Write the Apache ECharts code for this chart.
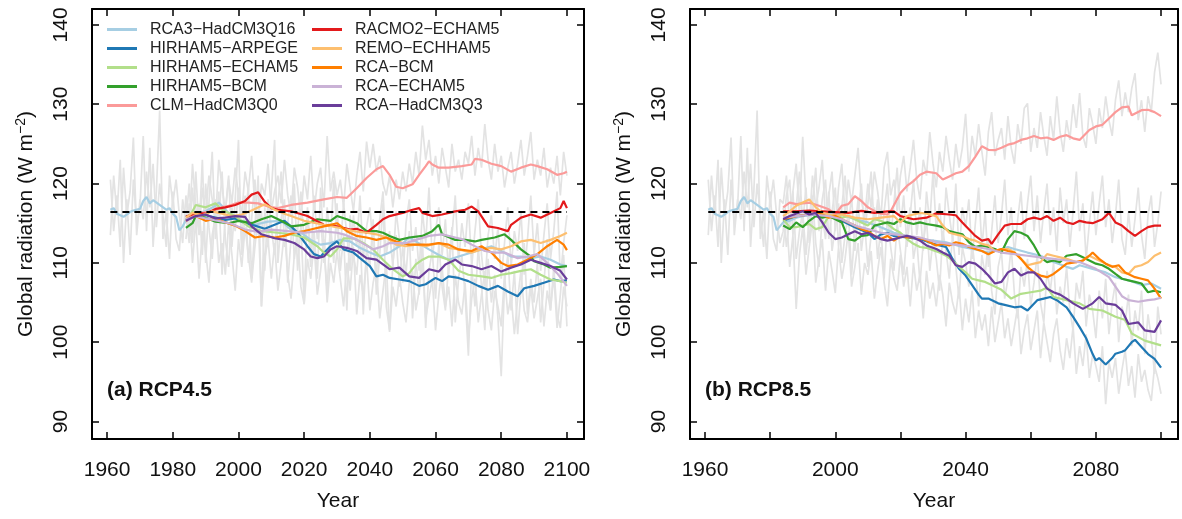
<!DOCTYPE html>
<html><head><meta charset="utf-8">
<script src="https://cdn.jsdelivr.net/npm/echarts@6/dist/echarts.min.js"></script>
<style>html,body{margin:0;padding:0;background:#fff}#c{width:1182px;height:519px}</style>
</head><body><div id="c"></div>
<script>
const FONT = '"Liberation Sans", Arial, Helvetica, sans-serif';

const modelNames = ['RCA3−HadCM3Q16','HIRHAM5−ARPEGE','HIRHAM5−ECHAM5','HIRHAM5−BCM','CLM−HadCM3Q0','RACMO2−ECHAM5','REMO−ECHHAM5','RCA−BCM','RCA−ECHAM5','RCA−HadCM3Q3'];
const modelColors = ['#A6CEE3','#1F78B4','#B2DF8A','#33A02C','#FB9A99','#E31A1C','#FDBF6F','#FF7F00','#CAB2D6','#6A3D9A'];
const xTicks = [1960,1980,2000,2020,2040,2060,2080,2100];
const xLabelsA = [1960,1980,2000,2020,2040,2060,2080,2100];
const xLabelsB = [1960,2000,2040,2080];
const yTicks = [90,100,110,120,130,140];
const refStart = 1961, refEnd = 2100, refLevel = 116.4;
const panelTitles = ['(a) RCP4.5','(b) RCP8.5'];

// shared historical part of the RCA3-HadCM3Q16 running mean
const rca3Hist = [[1961,116.7],[1962,116.9],[1963,116.2],[1965,115.8],[1967,116.4],[1968,116.6],[1970,116.8],[1971,117.8],[1972,118.3],[1973,117.5],[1974,117.9],[1976,117.3],[1978,116.7],[1979,116.9],[1980,116.2],[1981,115.8],[1982,114.1],[1983,114.6]];

// ---- RCP4.5 running means ----
const rca3_45 = [[1984,115.4],[1985,115.9],[1987,116.2],[1990,116.5],[1993,117.2],[1994,117.6],[1997,116.3],[2001,115.3],[2005,114.8],[2009,115.2],[2013,115.3],[2016,114.2],[2019,113.8],[2022,112.9],[2025,112.3],[2028,112.5],[2031,112.9],[2034,112.7],[2037,111.9],[2040,111.3],[2043,110.8],[2046,111.3],[2049,112.1],[2052,113.2],[2054,112.7],[2058,111.7],[2061,111.0],[2064,110.4],[2067,110.8],[2071,111.3],[2074,111.7],[2077,112.1],[2080,111.5],[2083,110.8],[2086,110.8],[2089,110.6],[2092,110.8],[2095,110.4],[2098,109.8],[2100,109.6]];
const arpege45 = [[1984,115.8],[1987,116.1],[1990,116.0],[1993,115.7],[1996,115.4],[1999,115.6],[2002,115.0],[2005,114.7],[2008,114.3],[2011,114.8],[2014,115.3],[2016,114.6],[2018,113.8],[2021,112.1],[2023,111.1],[2025,110.8],[2028,112.1],[2030,112.7],[2032,111.7],[2035,111.3],[2037,110.6],[2040,109.6],[2042,108.3],[2044,108.5],[2046,108.1],[2049,107.9],[2052,107.7],[2055,107.1],[2057,107.3],[2060,108.1],[2062,107.7],[2064,108.3],[2067,108.1],[2070,107.7],[2073,107.1],[2076,106.6],[2079,107.1],[2082,106.4],[2085,105.8],[2087,106.8],[2090,107.1],[2093,107.5],[2096,107.9],[2098,107.7],[2100,107.8]];
const echam45 = [[1984,115.3],[1986,116.5],[1987,117.3],[1990,117.0],[1993,117.5],[1995,116.7],[1999,115.9],[2003,114.6],[2007,114.0],[2012,113.8],[2016,113.6],[2020,113.2],[2024,112.1],[2026,111.3],[2028,110.8],[2030,111.7],[2032,113.1],[2035,113.1],[2038,112.5],[2041,111.7],[2044,110.4],[2047,109.2],[2050,108.3],[2052,108.7],[2054,109.8],[2056,110.4],[2058,110.8],[2061,110.8],[2064,110.4],[2067,109.0],[2070,108.5],[2074,108.3],[2077,108.1],[2080,108.5],[2083,108.7],[2086,109.0],[2089,109.2],[2092,108.5],[2095,107.9],[2098,107.7],[2100,107.5]];
const bcm45 = [[1984,114.4],[1986,115.0],[1987,115.9],[1990,115.7],[1993,115.2],[1997,115.0],[2000,115.3],[2004,115.0],[2007,115.5],[2010,115.9],[2013,115.3],[2016,114.6],[2020,114.8],[2024,115.5],[2028,115.3],[2030,115.9],[2033,115.5],[2036,115.0],[2039,114.0],[2042,114.0],[2044,113.8],[2046,113.4],[2049,112.9],[2052,113.2],[2056,113.4],[2059,114.0],[2061,114.8],[2062,113.6],[2066,112.9],[2069,112.9],[2072,112.7],[2074,112.9],[2078,113.2],[2081,113.6],[2083,112.9],[2086,111.7],[2089,110.8],[2090,110.2],[2093,109.8],[2095,109.4],[2098,109.5],[2100,109.6]];
const clm45 = [[1984,115.2],[1986,116.0],[1989,116.3],[1992,116.5],[1995,117.0],[1997,117.2],[2000,117.6],[2003,117.6],[2006,117.5],[2009,117.1],[2012,116.9],[2016,117.3],[2021,117.6],[2026,118.0],[2030,118.3],[2033,118.2],[2036,119.4],[2039,120.7],[2042,121.8],[2044,122.2],[2046,121.1],[2048,119.6],[2050,119.4],[2053,119.9],[2055,121.1],[2057,122.2],[2058,122.8],[2059,122.4],[2061,122.0],[2064,122.0],[2068,122.2],[2071,122.4],[2072,123.1],[2074,123.0],[2077,122.5],[2080,122.2],[2083,121.5],[2086,122.0],[2089,122.4],[2091,122.2],[2094,121.8],[2097,121.1],[2099,121.3],[2100,121.5]];
const racmo45 = [[1984,115.8],[1987,116.3],[1990,116.2],[1993,116.8],[1996,117.0],[1999,117.3],[2002,117.8],[2004,118.6],[2006,118.9],[2008,117.7],[2010,116.9],[2012,116.7],[2016,116.5],[2021,115.9],[2026,114.8],[2030,114.6],[2034,114.2],[2036,114.3],[2039,113.8],[2042,114.8],[2044,115.5],[2046,115.9],[2050,116.3],[2053,116.7],[2055,116.9],[2056,116.3],[2059,115.9],[2062,116.1],[2066,116.5],[2069,116.7],[2071,117.1],[2073,116.5],[2076,114.6],[2079,114.4],[2082,114.0],[2083,114.8],[2086,115.7],[2089,116.1],[2092,115.7],[2095,116.3],[2098,116.9],[2099,117.8],[2100,116.9]];
const remo45 = [[1984,115.7],[1986,116.3],[1989,116.0],[1992,116.5],[1995,116.2],[1998,115.9],[2001,116.1],[2004,116.6],[2008,117.4],[2011,116.7],[2014,116.2],[2016,115.9],[2020,115.3],[2026,114.8],[2031,114.4],[2035,114.0],[2039,113.8],[2042,113.6],[2045,113.2],[2048,112.3],[2051,112.1],[2054,112.3],[2057,112.1],[2061,112.5],[2064,111.9],[2067,111.7],[2071,111.3],[2074,111.7],[2077,111.9],[2080,111.7],[2083,112.1],[2086,112.7],[2089,112.9],[2092,112.5],[2095,112.9],[2098,113.4],[2100,113.8]];
const rcabcm45 = [[1984,115.5],[1987,115.9],[1990,115.3],[1993,115.6],[1996,115.1],[1999,114.7],[2002,114.0],[2005,113.2],[2008,113.4],[2011,113.2],[2014,113.4],[2017,113.8],[2020,114.0],[2022,114.2],[2026,114.6],[2030,115.0],[2033,114.0],[2036,113.4],[2039,113.2],[2042,112.9],[2045,113.2],[2048,112.7],[2052,112.3],[2055,112.3],[2058,112.3],[2061,112.5],[2064,112.3],[2067,111.7],[2071,111.5],[2074,112.1],[2077,111.3],[2080,110.0],[2082,109.6],[2085,109.8],[2088,110.4],[2091,111.1],[2094,112.1],[2097,112.9],[2099,112.3],[2100,111.6]];
const rcaecham45 = [[1984,115.5],[1987,115.9],[1990,115.6],[1994,115.3],[1998,114.9],[2002,114.2],[2006,113.9],[2010,114.2],[2015,114.0],[2020,113.8],[2025,114.0],[2030,113.8],[2032,113.6],[2036,112.9],[2041,111.7],[2044,112.1],[2046,112.5],[2051,112.5],[2054,112.9],[2058,113.4],[2062,113.6],[2066,113.2],[2068,113.0],[2071,112.3],[2075,111.5],[2078,111.3],[2081,111.3],[2085,110.6],[2088,110.8],[2091,111.1],[2094,110.0],[2097,108.7],[2100,107.1]];
const hadq3_45 = [[1984,115.3],[1987,115.9],[1990,116.1],[1993,115.6],[1996,115.7],[1999,115.9],[2002,115.8],[2004,114.6],[2007,113.6],[2011,113.1],[2014,112.9],[2017,112.5],[2020,111.7],[2022,110.8],[2024,110.6],[2026,110.8],[2028,111.7],[2030,112.1],[2033,111.9],[2036,111.5],[2039,110.6],[2042,110.4],[2044,109.8],[2046,109.2],[2049,109.4],[2052,108.3],[2055,108.1],[2058,109.2],[2061,108.9],[2063,109.8],[2066,110.4],[2068,109.8],[2071,109.6],[2074,109.2],[2077,109.6],[2080,108.9],[2083,109.4],[2086,109.8],[2089,110.4],[2092,110.0],[2095,109.6],[2098,109.0],[2100,107.9]];

// ---- RCP8.5 running means ----
const rca3_85 = [[1984,115.1],[1986,115.3],[1988,115.7],[1990,115.9],[1994,116.1],[1998,116.3],[2002,116.1],[2006,115.5],[2010,115.1],[2014,114.5],[2018,113.8],[2022,113.4],[2026,113.0],[2030,112.8],[2034,112.6],[2039,112.0],[2043,111.7],[2047,111.3],[2051,111.7],[2053,112.0],[2055,111.75],[2059,111.3],[2063,110.9],[2067,110.1],[2071,109.5],[2073,109.25],[2075,109.7],[2079,109.25],[2083,108.8],[2086,108.2],[2090,107.8],[2094,107.2],[2097,107.4],[2100,106.75]];
const arpege85 = [[1984,115.3],[1988,115.9],[1992,116.1],[1996,116.0],[1998,115.9],[2002,115.3],[2006,114.5],[2010,113.8],[2012,113.0],[2014,113.6],[2016,113.8],[2018,113.4],[2022,113.2],[2026,113.0],[2030,112.4],[2034,112.0],[2036,110.5],[2038,109.25],[2040,108.4],[2042,107.2],[2044,106.0],[2045,105.5],[2047,105.5],[2050,104.9],[2052,104.7],[2055,104.4],[2057,104.5],[2059,104.0],[2062,105.3],[2064,105.5],[2066,105.7],[2068,105.3],[2071,104.4],[2073,103.2],[2075,101.9],[2077,100.5],[2079,98.5],[2080,97.7],[2081,98.0],[2083,97.2],[2085,98.0],[2086,98.55],[2088,98.8],[2089,99.0],[2091,100.0],[2092,100.3],[2094,99.4],[2096,98.5],[2098,97.9],[2100,96.8]];
const echam85 = [[1984,115.5],[1986,114.5],[1988,114.5],[1990,114.7],[1992,114.9],[1994,114.25],[1996,114.5],[1998,115.9],[2000,116.1],[2002,115.7],[2004,115.9],[2006,115.5],[2008,115.1],[2010,114.7],[2012,115.5],[2014,115.3],[2016,114.9],[2018,114.25],[2020,113.8],[2022,113.0],[2024,112.4],[2026,112.0],[2028,111.9],[2030,111.6],[2032,111.3],[2034,110.9],[2036,110.3],[2038,109.5],[2040,108.8],[2042,108.0],[2044,107.8],[2046,107.6],[2048,107.2],[2051,106.6],[2054,105.5],[2057,106.1],[2060,106.3],[2063,106.5],[2065,106.9],[2067,105.7],[2071,105.3],[2075,104.9],[2078,104.2],[2082,104.0],[2086,103.2],[2089,102.8],[2091,101.1],[2095,100.2],[2100,99.6]];
const bcm85 = [[1984,114.7],[1986,114.25],[1988,115.1],[1990,114.5],[1992,115.3],[1994,115.9],[1996,115.7],[1998,115.9],[2000,115.5],[2002,115.1],[2004,113.0],[2006,112.8],[2008,113.4],[2010,113.5],[2012,114.7],[2014,114.9],[2016,115.1],[2018,114.9],[2020,115.5],[2022,115.1],[2024,114.9],[2026,115.1],[2028,114.9],[2031,114.7],[2033,114.5],[2035,114.0],[2037,113.8],[2039,113.6],[2041,112.6],[2043,112.0],[2045,112.2],[2047,112.0],[2049,111.75],[2051,111.3],[2053,113.0],[2055,114.0],[2057,113.8],[2059,113.4],[2061,112.2],[2063,110.7],[2065,110.1],[2067,110.3],[2069,110.1],[2071,110.9],[2074,111.1],[2076,110.7],[2078,110.3],[2080,109.9],[2082,109.7],[2084,109.25],[2086,108.6],[2088,108.0],[2090,107.8],[2092,107.6],[2094,107.4],[2096,106.3],[2098,106.5],[2100,106.3]];
const clm85 = [[1984,117.0],[1986,117.6],[1988,117.4],[1992,117.6],[1995,117.2],[1998,116.75],[2000,116.1],[2002,117.2],[2004,117.4],[2006,118.4],[2008,117.8],[2010,117.0],[2012,116.55],[2014,116.2],[2016,116.1],[2017,116.5],[2020,118.8],[2022,119.7],[2024,120.3],[2026,121.1],[2028,121.5],[2031,121.3],[2033,120.5],[2035,120.9],[2037,121.3],[2039,121.5],[2041,122.2],[2043,123.4],[2045,124.7],[2047,124.25],[2049,124.2],[2051,124.5],[2053,124.9],[2055,125.1],[2057,125.5],[2059,125.7],[2061,126.0],[2063,125.7],[2065,125.8],[2067,125.5],[2069,125.9],[2071,126.1],[2073,125.7],[2075,125.5],[2078,126.75],[2080,127.2],[2082,127.4],[2084,128.2],[2086,129.0],[2088,129.6],[2090,129.7],[2091,128.6],[2094,129.25],[2096,129.3],[2098,129.0],[2100,128.5]];
const racmo85 = [[1984,116.5],[1988,116.5],[1992,116.6],[1996,116.5],[2000,116.4],[2004,116.3],[2008,116.55],[2012,116.3],[2016,116.5],[2018,116.5],[2020,115.9],[2024,115.5],[2028,115.7],[2031,116.25],[2035,116.1],[2037,116.0],[2039,115.1],[2041,114.25],[2043,113.4],[2045,112.8],[2047,113.0],[2048,112.4],[2050,113.6],[2052,114.7],[2054,114.9],[2057,114.9],[2059,115.5],[2061,115.7],[2063,115.5],[2065,115.9],[2067,115.3],[2069,115.7],[2071,115.1],[2073,114.9],[2075,115.3],[2077,115.1],[2079,115.0],[2082,115.5],[2084,116.3],[2086,115.1],[2088,114.7],[2090,114.0],[2092,113.4],[2094,114.0],[2096,114.5],[2098,114.7],[2100,114.7]];
const remo85 = [[1984,115.9],[1986,116.5],[1988,117.2],[1990,117.6],[1992,118.0],[1994,117.0],[1996,116.3],[2000,115.9],[2002,116.1],[2006,115.7],[2010,115.5],[2014,115.7],[2018,115.9],[2020,115.1],[2022,115.9],[2024,116.1],[2026,116.3],[2028,116.2],[2031,115.9],[2033,114.7],[2035,113.8],[2037,113.6],[2039,113.4],[2041,113.0],[2043,112.8],[2045,112.4],[2047,112.2],[2049,111.5],[2051,111.75],[2053,111.75],[2055,111.3],[2057,110.5],[2059,109.7],[2061,109.9],[2063,110.1],[2065,111.1],[2067,110.9],[2069,110.7],[2071,110.5],[2074,110.1],[2076,110.3],[2078,110.9],[2080,110.5],[2082,110.1],[2084,109.7],[2086,109.5],[2088,108.8],[2090,108.6],[2092,109.5],[2094,109.7],[2096,110.1],[2098,110.9],[2100,111.3]];
const rcabcm85 = [[1984,115.5],[1988,115.9],[1992,116.1],[1994,116.3],[1996,116.1],[1998,115.7],[2000,115.9],[2002,115.5],[2004,115.1],[2006,114.7],[2008,114.25],[2010,114.0],[2012,113.4],[2014,113.0],[2016,113.4],[2018,112.8],[2020,113.4],[2022,113.2],[2025,113.2],[2027,113.0],[2029,112.6],[2031,112.2],[2033,112.4],[2035,112.2],[2037,112.6],[2039,112.4],[2041,112.0],[2043,111.75],[2045,111.5],[2047,111.1],[2049,111.5],[2051,111.75],[2053,111.5],[2055,111.3],[2057,110.5],[2059,109.5],[2061,108.8],[2063,108.4],[2065,108.2],[2067,108.6],[2069,109.25],[2071,109.9],[2074,110.1],[2076,110.3],[2078,110.9],[2079,111.3],[2081,110.5],[2083,109.9],[2085,109.5],[2087,109.7],[2089,108.8],[2092,108.2],[2094,108.0],[2096,107.8],[2098,106.75],[2100,105.5]];
const rcaecham85 = [[1984,115.7],[1988,115.9],[1993,116.1],[1998,115.9],[2002,115.5],[2006,114.7],[2010,114.25],[2014,113.8],[2018,113.6],[2022,113.4],[2026,113.2],[2031,112.6],[2035,112.4],[2039,112.2],[2043,112.0],[2047,111.75],[2051,111.3],[2055,111.1],[2059,110.9],[2063,110.7],[2067,110.5],[2071,110.3],[2075,110.1],[2080,109.25],[2084,108.2],[2086,107.0],[2088,105.8],[2090,105.3],[2093,105.1],[2096,105.3],[2098,105.4],[2100,105.6]];
const hadq3_85 = [[1984,115.5],[1986,115.9],[1990,116.5],[1992,116.1],[1994,116.3],[1996,115.1],[1998,113.8],[2000,113.0],[2002,113.2],[2004,113.6],[2006,114.0],[2008,113.6],[2010,113.8],[2012,113.4],[2014,113.0],[2016,112.8],[2018,113.0],[2020,113.2],[2022,113.4],[2024,113.2],[2026,112.8],[2028,112.2],[2031,111.75],[2033,111.3],[2035,110.9],[2037,109.7],[2039,109.5],[2041,110.1],[2043,109.9],[2045,109.25],[2047,108.4],[2049,107.4],[2051,107.6],[2053,108.8],[2055,109.25],[2057,108.4],[2059,108.8],[2061,108.8],[2063,108.0],[2065,106.75],[2067,106.3],[2069,106.0],[2071,105.5],[2073,104.9],[2076,104.2],[2079,104.9],[2081,105.7],[2083,104.9],[2086,104.7],[2088,104.0],[2090,102.3],[2093,102.5],[2095,101.5],[2098,101.3],[2100,102.75]];

// ---- annual values (grey), historical 1961-1983 ----
const histStart = 1961, scenStart = 1984;
const histGray1 = [113.5,121.0,116.0,123.0,110.0,118.0,111.0,120.5,115.0,117.0,126.0,114.0,124.5,112.0,119.0,129.2,113.0,116.5,110.5,119.0,113.0,111.5,118.0];
const histGray2 = [120.5,114.0,118.5,112.0,122.0,116.0,119.0,125.8,113.5,118.0,115.5,121.5,117.0,122.5,114.5,120.0,116.0,112.0,121.0,117.5,120.5,116.0,112.5];
// RCP4.5 annual values 1984-2100
const gray45a = [115.0,120.0,112.5,121.5,114.0,123.0,110.0,
117.5,124.0,113.0,119.0,108.5,116.5,121.0,112.0,118.0,125.5,
111.0,116.0,119.5,108.0,114.5,121.0,104.5,117.0,112.0,119.0,
125.5,110.0,115.5,118.0,107.5,113.0,120.0,109.0,115.0,104.8,
117.0,111.0,114.0,108.0,119.5,112.0,106.5,115.0,110.0,117.5,
109.0,113.5,104.0,116.0,111.0,108.5,114.0,103.5,112.0,109.5,
115.5,106.0,111.0,117.5,104.5,101.5,110.0,113.5,107.0,112.0,
108.5,114.0,103.0,110.5,106.0,113.0,101.8,109.0,111.5,105.5,
112.5,107.0,104.0,110.0,114.5,102.5,108.0,111.0,106.0,98.3,
109.5,104.5,112.0,107.0,101.5,110.5,105.0,108.5,103.0,95.7,
107.5,111.0,104.0,109.0,101.0,106.5,112.5,103.5,108.0,105.0,
110.0,102.5,107.5,113.0,104.0,108.5,101.8,106.0,111.0,102.0];
const gray45b = [118.5,114.0,122.5,117.0,113.5,119.5,116.0,
121.0,118.0,115.0,123.0,119.5,116.5,120.5,117.5,122.0,118.5,
116.0,121.5,119.0,123.5,117.0,115.0,120.0,118.5,122.5,116.5,
119.0,121.0,117.5,123.0,118.5,116.0,122.0,119.5,115.5,121.0,
118.0,123.5,116.5,120.0,122.0,117.0,126.0,119.0,121.5,118.5,
120.5,117.0,122.5,119.5,116.5,121.0,124.0,119.0,125.3,122.0,
125.0,121.5,123.5,120.0,118.5,121.0,117.0,120.5,118.0,121.5,
119.0,122.5,120.0,124.0,121.0,127.3,123.0,125.5,121.0,123.5,
120.0,124.5,122.0,119.5,125.0,121.5,123.0,120.5,124.0,122.5,
126.0,121.0,124.5,122.0,127.5,123.0,120.5,125.0,121.5,123.5,
119.5,122.0,124.0,120.0,122.5,125.5,121.0,123.5,126.5,120.5,
123.0,121.0,124.5,119.5,122.0,120.0,123.5,118.5,124.0,121.0];
const gray45c = [116.0,112.5,119.5,114.0,117.5,111.0,120.0,
114.5,110.5,118.0,115.5,121.5,113.0,109.5,117.0,114.0,119.5,
112.5,118.5,110.0,115.5,120.5,113.5,116.5,109.0,118.0,114.5,
111.0,117.5,121.5,112.0,115.0,118.5,110.5,114.0,119.0,112.5,
116.0,109.5,118.5,113.0,115.5,110.0,117.0,112.5,120.5,114.0,
111.5,117.5,113.5,109.0,116.0,112.0,118.5,110.5,114.5,117.0,
112.0,108.5,115.5,119.0,111.0,114.0,109.5,116.5,113.0,107.5,
115.0,118.0,111.5,114.5,109.0,116.5,112.5,119.5,110.5,114.0,
117.0,111.0,115.5,108.5,113.5,118.5,110.0,115.0,112.0,117.5,
109.5,114.0,118.0,111.0,107.0,113.5,116.0,110.5,114.5,108.0,
112.5,117.0,109.5,114.0,111.5,116.5,108.5,113.0,118.5,111.0,
115.0,109.0,113.5,117.5,110.5,114.0,119.0,108.0,112.5,116.0];
const gray45d = [113.0,117.5,110.0,115.5,108.0,114.0,111.5,
107.5,113.5,116.0,110.0,112.5,108.5,115.0,111.0,106.5,113.0,
109.5,114.5,111.0,107.5,112.0,116.0,104.5,110.5,113.0,108.0,
112.5,106.5,110.0,114.0,108.5,105.5,111.0,113.5,107.0,104.8,
110.5,108.0,112.5,106.0,109.0,113.0,105.0,110.0,107.5,111.5,
108.0,104.5,110.0,106.5,112.0,103.5,108.5,106.0,110.5,104.0,
107.5,109.5,103.0,106.5,110.0,101.3,107.0,104.5,108.5,105.0,
102.5,107.5,109.0,104.0,106.5,110.0,103.0,105.5,108.0,101.5,
106.0,109.5,104.5,107.0,102.0,108.5,105.0,103.5,107.5,100.5,
105.5,108.0,102.5,106.0,109.0,104.0,101.5,106.5,104.5,102.0,
108.5,103.5,106.0,101.0,105.5,109.0,104.0,102.5,107.0,103.0,
105.5,108.0,102.0,106.5,104.0,109.5,103.5,101.8,107.0,104.5];
// RCP8.5 annual values 1984-2100
const gray85a = [117.5,121.0,114.5,119.0,122.5,116.0,125.9,
118.0,114.5,121.0,117.0,119.5,123.0,115.5,118.5,121.5,114.0,
119.5,122.5,116.0,120.5,117.5,121.0,124.5,118.0,115.5,120.0,
117.0,121.5,119.0,115.5,122.0,124.0,118.5,120.5,116.5,121.0,
123.5,119.0,122.0,125.5,120.5,118.0,123.0,121.0,126.5,122.5,
119.5,124.0,121.5,126.0,123.0,120.5,125.0,122.0,124.5,128.8,
121.5,126.0,123.5,127.5,124.0,121.0,126.5,129.0,123.5,125.5,
127.0,123.0,128.5,124.5,122.5,127.5,125.0,129.5,130.1,124.0,
127.0,124.5,129.0,126.0,123.5,128.5,125.5,131.0,126.5,124.0,
128.0,125.5,130.0,127.0,131.4,126.0,124.5,129.5,127.5,125.0,
129.5,127.0,131.0,128.0,126.0,130.5,133.0,128.5,131.5,129.0,
132.0,133.9,128.0,130.5,126.5,131.0,129.0,134.0,136.5,132.5];
const gray85b = [114.0,118.5,120.5,113.5,117.0,121.5,115.0,
119.5,112.5,117.5,122.0,114.0,118.0,120.5,113.0,116.5,119.5,
112.0,117.0,121.0,114.5,118.5,111.5,116.0,120.0,113.5,117.5,
121.5,114.0,118.0,112.5,116.5,120.0,113.0,117.5,122.0,114.5,
118.5,112.0,116.0,120.5,113.5,117.0,111.5,119.0,115.0,121.5,
114.0,117.5,112.0,119.5,116.0,113.0,120.0,111.0,117.0,114.5,
118.0,110.5,115.0,119.5,112.0,116.5,109.5,114.0,118.5,112.5,
116.0,120.5,113.5,117.0,111.0,115.5,119.0,113.0,117.5,121.0,
114.0,118.5,112.5,116.5,120.0,113.5,117.0,111.5,119.5,115.0,
118.0,112.0,116.5,121.5,114.0,117.5,110.5,115.0,119.0,113.5,
117.5,121.0,114.5,118.0,112.5,116.0,120.5,113.0,111.0,116.5,
112.0,115.5,119.5,113.5,110.5,116.0,118.5,112.0,115.0,119.0];
const gray85c = [117.0,112.0,115.5,119.0,110.5,114.0,116.5,
111.0,115.5,118.5,112.5,109.5,116.0,113.0,119.0,111.5,114.5,
117.5,110.0,113.5,116.5,108.5,114.0,118.0,111.5,115.0,109.5,
113.5,117.0,110.5,114.5,108.0,116.0,112.0,109.0,115.0,111.5,
108.5,114.0,117.0,110.5,113.0,107.5,112.5,115.5,109.0,113.0,
110.5,106.5,114.0,111.5,108.0,113.5,109.5,105.5,112.0,110.0,
107.0,112.5,109.0,104.5,111.0,108.5,113.0,106.5,103.5,109.5,
111.5,105.5,108.0,112.0,106.0,103.0,109.5,107.0,110.5,104.5,
107.5,111.0,105.0,102.5,109.0,106.5,110.0,103.5,107.0,105.0,
109.5,104.0,101.5,107.5,105.5,109.0,102.0,106.0,104.0,100.5,
106.5,103.0,108.0,101.0,105.0,107.5,100.0,104.5,102.5,106.0,
99.5,104.0,101.5,106.5,98.5,103.5,100.5,96.0,104.5,101.0];
const gray85d = [112.0,116.0,109.5,113.5,104.2,111.0,114.5,
108.5,112.0,115.5,107.5,110.5,113.0,106.5,111.5,109.0,106.2,
112.0,108.0,110.5,114.0,107.0,109.5,112.5,106.0,110.0,108.5,
111.5,105.5,109.0,112.0,107.5,104.5,110.5,108.0,106.5,111.0,
107.0,109.5,104.5,110.0,106.5,108.5,103.0,109.0,105.5,107.5,
104.5,108.5,106.0,102.0,107.5,105.0,103.5,107.0,101.5,105.5,
102.5,106.5,100.5,104.0,101.5,103.5,99.5,104.5,100.0,102.5,
105.0,100.5,103.0,99.5,102.0,104.5,98.5,101.5,103.5,99.0,
101.5,104.0,98.0,102.5,100.0,97.5,101.0,103.0,99.0,96.5,
100.5,98.0,102.0,96.0,99.5,97.0,101.0,95.5,98.5,97.0,
95.0,99.5,92.2,97.5,95.5,98.0,93.5,96.5,99.0,94.5,
97.0,93.0,98.5,95.0,96.5,94.0,92.6,97.0,95.5,93.5];

const annual = (start, vals) => vals.map((v, i) => [start + i, v]);

const panels = [
  { lines: [rca3Hist.concat(rca3_45), arpege45, echam45, bcm45, clm45, racmo45, remo45, rcabcm45, rcaecham45, hadq3_45],
    grays: [annual(histStart, histGray1).concat(annual(scenStart, gray45a)), annual(histStart, histGray2).concat(annual(scenStart, gray45b)), annual(scenStart, gray45c), annual(scenStart, gray45d)],
    labels: xLabelsA },
  { lines: [rca3Hist.concat(rca3_85), arpege85, echam85, bcm85, clm85, racmo85, remo85, rcabcm85, rcaecham85, hadq3_85],
    grays: [annual(histStart, histGray1).concat(annual(scenStart, gray85a)), annual(histStart, histGray2).concat(annual(scenStart, gray85b)), annual(scenStart, gray85c), annual(scenStart, gray85d)],
    labels: xLabelsB }
];

const XMIN = 1955.4, XMAX = 2105.2, YMIN = 87.8, YMAX = 142;
const lineBase = { show: true, onZero: false, lineStyle: { color: '#000', width: 2 } };
const tickBase = (vals) => ({ show: true, inside: true, length: 7, customValues: vals, lineStyle: { color: '#000', width: 1.5 } });
const txt = { fontFamily: FONT, fontSize: 21, color: '#111' };
const plain = (v) => String(v);

const grids = [
  { left: 92, top: 9, width: 492, height: 430 },
  { left: 690, top: 9, width: 488, height: 430 }
];
const xAxes = [], yAxes = [], series = [];
panels.forEach((p, gi) => {
  xAxes.push({ type: 'value', gridIndex: gi, position: 'bottom', min: XMIN, max: XMAX,
    axisLine: lineBase, axisTick: tickBase(xTicks), splitLine: { show: false },
    axisLabel: Object.assign({ customValues: p.labels, margin: 21, formatter: plain }, txt),
    name: 'Year', nameLocation: 'middle', nameGap: 52, nameTextStyle: txt });
  xAxes.push({ type: 'value', gridIndex: gi, position: 'top', min: XMIN, max: XMAX,
    axisLine: lineBase, axisTick: tickBase(xTicks), splitLine: { show: false }, axisLabel: { show: false } });
  yAxes.push({ type: 'value', gridIndex: gi, position: 'left', min: YMIN, max: YMAX,
    axisLine: lineBase, axisTick: tickBase(yTicks), splitLine: { show: false },
    axisLabel: Object.assign({ customValues: yTicks, rotate: 90, margin: 20, formatter: plain }, txt),
    name: '{n|Global radiation (W m}{s|−2}{n|)}', nameLocation: 'middle', nameRotate: 90, nameGap: 54,
    nameTextStyle: { rich: { n: Object.assign({ lineHeight: 24 }, txt), s: { fontFamily: FONT, fontSize: 14, color: '#111', verticalAlign: 'top', lineHeight: 14 } } } });
  yAxes.push({ type: 'value', gridIndex: gi, position: 'right', min: YMIN, max: YMAX,
    axisLine: lineBase, axisTick: tickBase(yTicks), splitLine: { show: false }, axisLabel: { show: false } });

  const xi = gi * 2, yi = gi * 2;
  p.grays.forEach(g => series.push({ type: 'line', xAxisIndex: xi, yAxisIndex: yi, data: g, symbol: 'none', silent: true,
    lineStyle: { color: '#E3E3E3', width: 1.7 }, z: 1 }));
  p.lines.forEach((d, k) => series.push({ type: 'line', name: modelNames[k], xAxisIndex: xi, yAxisIndex: yi, data: d, symbol: 'none',
    color: modelColors[k], lineStyle: { color: modelColors[k], width: 2.2 }, z: 2 }));
  series.push({ type: 'line', xAxisIndex: xi, yAxisIndex: yi, data: [[refStart, refLevel], [refEnd, refLevel]], symbol: 'none', silent: true,
    lineStyle: { color: '#000', width: 2, type: [7, 5] }, z: 3 });
});

const legendBase = { orient: 'vertical', top: 20, itemWidth: 30, itemHeight: 3, itemGap: 0, icon: 'rect', padding: 0, selectedMode: false,
  textStyle: { fontFamily: FONT, fontSize: 16, color: '#222', lineHeight: 19, padding: [0, 0, 0, 8] } };

const chart = echarts.init(document.getElementById('c'), null, { renderer: 'canvas' });
chart.setOption({
  animation: false,
  backgroundColor: '#fff',
  title: panelTitles.map((t, i) => ({ text: t, left: i === 0 ? 107 : 705, top: 380, padding: 0,
    textStyle: { fontFamily: FONT, fontSize: 21, fontWeight: 'bold', color: '#111' } })),
  legend: [
    Object.assign({ left: 107, data: modelNames.slice(0, 5) }, legendBase),
    Object.assign({ left: 312, data: modelNames.slice(5) }, legendBase)
  ],
  grid: grids,
  xAxis: xAxes,
  yAxis: yAxes,
  series: series
});
</script>
</body></html>
